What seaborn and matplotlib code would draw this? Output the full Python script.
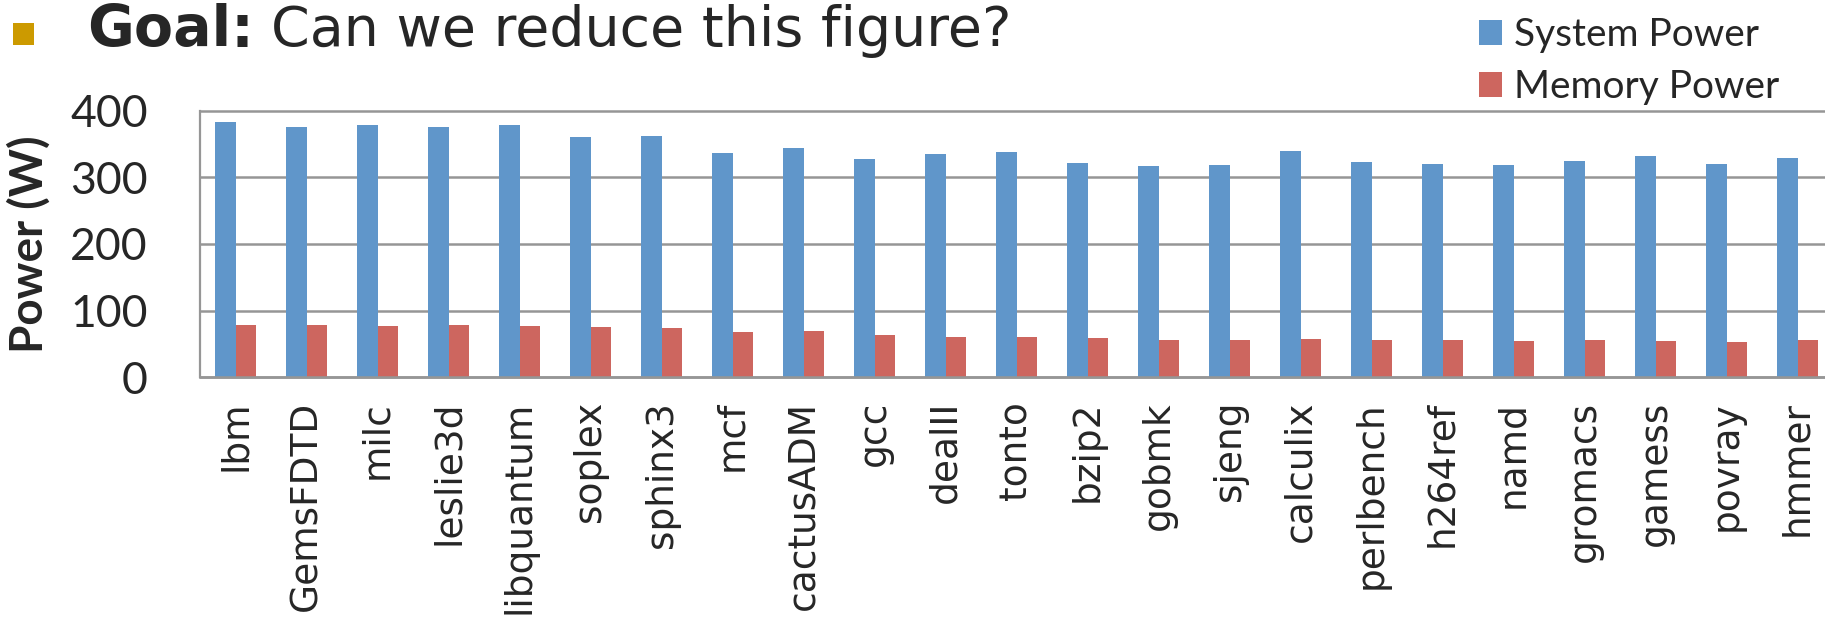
import numpy as np
import pandas as pd
import matplotlib
matplotlib.use('Agg')
import matplotlib.pyplot as plt
from matplotlib.patches import Rectangle, Patch
import seaborn as sns

# values
benchmarks = ['lbm', 'GemsFDTD', 'milc', 'leslie3d', 'libquantum', 'soplex', 'sphinx3',
              'mcf', 'cactusADM', 'gcc', 'dealII', 'tonto', 'bzip2', 'gobmk', 'sjeng',
              'calculix', 'perlbench', 'h264ref', 'namd', 'gromacs', 'gamess', 'povray', 'hmmer']
system_power = [382.5, 375, 379, 375, 379, 360.5, 362, 336, 343.5, 327, 334.5, 337.5,
                321.5, 317.5, 318.5, 339.5, 323, 320, 318.5, 324, 332, 320, 329]
memory_power = [79, 78, 76.5, 78, 76.5, 75, 73.5, 67.5, 69, 63.5, 60, 61, 58.5, 56, 56,
                57.5, 56, 56, 54.5, 56, 54.5, 53, 56]
series_names = ['System Power', 'Memory Power']
y_ticks = [0, 100, 200, 300, 400]

blue = '#6096CA'
red = '#CD665F'
grid_col = '#969696'

sales = pd.DataFrame({
    'benchmark': benchmarks * 2,
    'power': system_power + memory_power,
    'series': [series_names[0]] * len(benchmarks) + [series_names[1]] * len(benchmarks),
})

sns.set_style('white')
plt.rcParams['font.family'] = ['DejaVu Sans']

W, H = 1825, 631
fig = plt.figure(figsize=(W / 100, H / 100), dpi=100)
ax = fig.add_axes([200 / W, 1 - 377.3 / H, 1633 / W, (377.3 - 110.7) / H])

sns.barplot(data=sales, x='benchmark', y='power', hue='series', palette=[blue, red],
            width=0.58, saturation=1, gap=0, linewidth=0, ax=ax, legend=False)

ax.set_xlim(-0.5, len(benchmarks) - 0.5)
ax.set_ylim(0, 400)
ax.set_yticks(y_ticks)
ax.set_yticklabels([str(v) for v in y_ticks], family='Lato', fontsize=32)
ax.set_xticks(range(len(benchmarks)))
ax.set_xticklabels(benchmarks, rotation=90, ha='center', va='top', fontsize=27)
ax.set_xticks(np.arange(len(benchmarks) + 1) - 0.5, minor=True)
ax.tick_params(axis='x', which='major', length=0, pad=17)
ax.tick_params(axis='x', which='minor', length=9, width=1.3, color=grid_col, direction='out')
ax.tick_params(axis='y', which='major', length=11.5, width=1.6, color=grid_col,
               direction='out', pad=26)
ax.set_xlabel('')
ax.set_ylabel('Power (W)', family='Lato', fontweight='bold', fontsize=33, labelpad=14)

ax.yaxis.grid(True, color=grid_col, linewidth=1.8)
ax.set_axisbelow(True)
for line in ax.get_ygridlines():
    line.set_clip_on(False)
for s in ['top', 'right']:
    ax.spines[s].set_visible(False)
ax.spines['left'].set_color(grid_col)
ax.spines['left'].set_linewidth(1.6)
ax.spines['bottom'].set_color(grid_col)
ax.spines['bottom'].set_linewidth(1.8)

# legend in the top right corner
handles = [Patch(facecolor=blue, edgecolor='none'), Patch(facecolor=red, edgecolor='none')]
fig.legend(handles, series_names, loc='upper left', bbox_to_anchor=(1479 / W, 1 - 17 / H),
           bbox_transform=fig.transFigure, frameon=False, prop={'family': 'Lato', 'size': 28},
           handlelength=0.6, handleheight=0.6, handletextpad=0.3, labelspacing=0.42,
           borderpad=0, borderaxespad=0)

# slide title with bullet
fig.patches.append(Rectangle((13 / W, 1 - 45 / H), 21 / W, 22 / H, transform=fig.transFigure,
                             facecolor='#CC9A00', edgecolor='none'))
fig.text(87 / W, 1 - 46 / H, 'Goal:', fontsize=41, fontweight='bold', va='baseline')
fig.text(271 / W, 1 - 46 / H, 'Can we reduce this figure?', fontsize=40, va='baseline')

fig.savefig('out.png', dpi=100)
